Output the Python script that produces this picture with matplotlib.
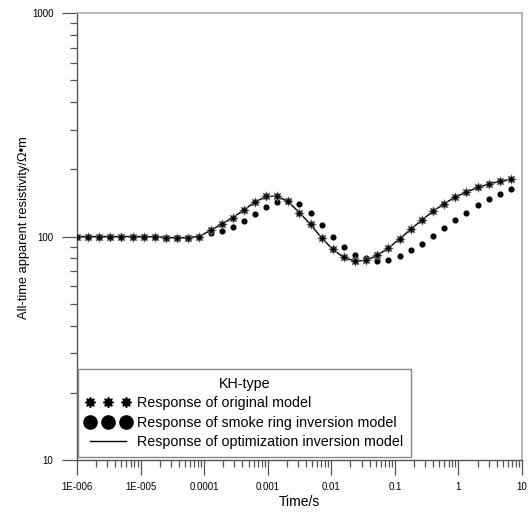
import matplotlib
matplotlib.use("Agg")
import matplotlib.pyplot as plt
from matplotlib.lines import Line2D
from matplotlib.ticker import FixedLocator, FixedFormatter, LogLocator, NullFormatter

plt.rcParams["font.family"] = ["Liberation Sans", "DejaVu Sans"]

# sampling times (s)
time_s = [
    1.0e-6, 1.5e-6, 2.24e-6, 3.35e-6, 5.0e-6, 7.5e-6,
    1.12e-5, 1.68e-5, 2.51e-5, 3.76e-5, 5.62e-5, 8.41e-5,
    1.26e-4, 1.88e-4, 2.82e-4, 4.22e-4, 6.31e-4, 9.44e-4,
    1.41e-3, 2.11e-3, 3.16e-3, 4.73e-3, 7.08e-3,
    1.06e-2, 1.58e-2, 2.37e-2, 3.55e-2, 5.31e-2, 7.94e-2,
    0.119, 0.178, 0.266, 0.398, 0.596, 0.891,
    1.33, 2.0, 2.99, 4.47, 6.68,
]

# response of original model
rho_original = [
    100, 100, 100, 100, 100, 100, 100, 100, 99, 98.7, 99, 100,
    107, 113.5, 121, 131.4, 142.7, 152, 152, 143.6, 128, 113.4, 98.5,
    87.7, 80.7, 77.9, 78.7, 82.6, 88.8, 97.7, 107.7, 118.5, 129.6,
    140.2, 150.2, 158.2, 166, 171.7, 176.5, 180.8,
]

# response of smoke ring inversion model
rho_smoke = [
    100, 100, 100, 100, 100, 100, 100, 100, 99, 98.8, 99, 100,
    103.3, 105.9, 110.6, 117.3, 126, 135, 142.7, 143.5, 139.7, 127, 112.5,
    99.5, 89.5, 82.9, 79.8, 77.9, 78.8, 81.5, 86.8, 92.9, 100.5,
    108.8, 118, 127.8, 137.8, 146.6, 155, 162.6,
]

# response of optimization inversion model
rho_optim = [
    100, 100, 100, 100, 100, 100, 100, 99.8, 99.2, 98.8, 99, 100.2,
    106.5, 113.5, 121.5, 131.5, 142.5, 151, 151.5, 143, 128, 113, 98.5,
    87.5, 80.5, 77.6, 78.3, 82.5, 88.8, 97.7, 107.7, 118.5, 129.6,
    140.2, 150, 158, 165.5, 171.5, 176.5, 180.5,
]

x_ticks = [1e-6, 1e-5, 1e-4, 1e-3, 1e-2, 1e-1, 1, 10]
x_tick_labels = ["1E-006", "1E-005", "0.0001", "0.001", "0.01", "0.1", "1", "10"]
y_ticks = [10, 100, 1000]
y_tick_labels = ["10", "100", "1000"]

fig = plt.figure(figsize=(5.31, 5.17), dpi=100)
ax = fig.add_axes([0.145, 0.110, 0.838, 0.865])

ax.plot(time_s, rho_optim, color="black", linewidth=1.0, zorder=2)
ax.plot(time_s, rho_smoke, linestyle="none", marker="o", markersize=3.4,
        color="black", zorder=3)
ax.plot(time_s, rho_original, linestyle="none", marker=(8, 1, 0), markersize=7,
        color="black", markeredgecolor="#777777", markeredgewidth=0.5, zorder=4)

ax.set_xscale("log")
ax.set_yscale("log")
ax.set_xlim(1e-6, 10)
ax.set_ylim(10, 1000)

ax.xaxis.set_major_locator(FixedLocator(x_ticks))
ax.xaxis.set_major_formatter(FixedFormatter(x_tick_labels))
ax.xaxis.set_minor_locator(LogLocator(base=10, subs=range(2, 10), numticks=20))
ax.xaxis.set_minor_formatter(NullFormatter())
ax.yaxis.set_major_locator(FixedLocator(y_ticks))
ax.yaxis.set_major_formatter(FixedFormatter(y_tick_labels))
ax.yaxis.set_minor_locator(LogLocator(base=10, subs=range(2, 10), numticks=20))
ax.yaxis.set_minor_formatter(NullFormatter())

ax.tick_params(which="major", direction="out", length=11, width=0.9,
               color="#555555", labelsize=7, pad=5)
ax.tick_params(which="minor", direction="out", length=5, width=0.9, color="#555555")
ax.tick_params(axis="y", which="major", pad=6)

for side in ["left", "bottom"]:
    ax.spines[side].set_color("#555555")
    ax.spines[side].set_linewidth(1.0)
for side in ["top", "right"]:
    ax.spines[side].set_color("#aaaaaa")
    ax.spines[side].set_linewidth(1.2)

ax.set_xlabel("Time/s", fontsize=10, labelpad=2)
ax.set_ylabel("All-time apparent resistivity/\u03a9\u2022m", fontsize=9.3, labelpad=4)
ax.yaxis.set_label_coords(-0.105, 0.52)

handles = [
    Line2D([], [], linestyle="none", marker=(8, 1, 0), markersize=7.5, color="black"),
    Line2D([], [], linestyle="none", marker="o", markersize=9.5, color="black"),
    Line2D([], [], color="black", linewidth=1.0),
]
labels = [
    "Response of original model",
    "Response of smoke ring inversion model",
    "Response of optimization inversion model",
]
leg = ax.legend(handles, labels, title="KH-type", loc="lower left",
                bbox_to_anchor=(0.002, 0.007), borderaxespad=0,
                fontsize=10.3, title_fontsize=10.3, numpoints=3,
                handlelength=3.1, handletextpad=0.45, labelspacing=0.38,
                borderpad=0.55, fancybox=False, framealpha=1,
                edgecolor="#888888")
leg.get_frame().set_linewidth(1.0)

fig.savefig("out.png", dpi=100)
